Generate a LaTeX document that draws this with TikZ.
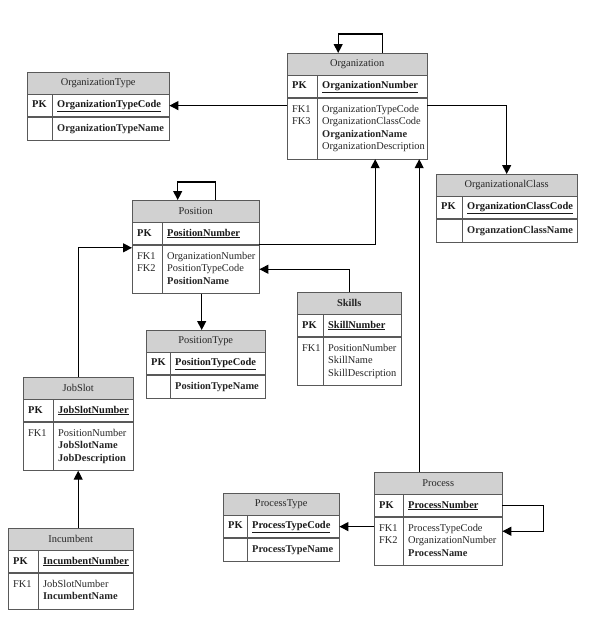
\documentclass[tikz,border=0pt]{standalone}
\usepackage{fontspec}
\setmainfont{Liberation Serif}
\usepackage{tikz}
\usetikzlibrary{arrows.meta, positioning}

\newcommand{\erbox}[7]{%
  \node[erhead, text width=#3, anchor=north west] (#1) at #2 {#5};
  \node[erkey, text width=#3, below=0pt of #1] (#1-pk)
    {\makebox[#4][l]{\textbf{PK}}\underline{\textbf{#6}}};
  \node[erbody, text width=#3, below=0pt of #1-pk] (#1-body)
    {\begin{tabular}{@{}p{#4}@{}l@{}}#7\end{tabular}};
  \draw[erline] ([xshift=#4]#1-pk.north west) -- ([xshift=#4]#1-body.south west);
}

\begin{document}
\begin{tikzpicture}[
    x=1pt, y=1pt,
    font=\fontsize{10.4}{12.5}\selectfont,
    erhead/.style={draw=black!65, fill=black!18, minimum height=22pt,
                   inner xsep=5pt, inner ysep=0pt, align=center, text=black!85},
    erkey/.style={draw=black!65, fill=white, minimum height=22pt,
                  inner xsep=5pt, inner ysep=0pt, align=left, text=black!90},
    erbody/.style={draw=black!65, fill=white, inner xsep=5pt, inner ysep=5.5pt,
                   align=left, text=black!85},
    erline/.style={draw=black!65},
    fk/.style={-{Triangle[length=9pt, width=9pt]}, line width=1.1pt}
  ]
    \useasboundingbox (0,0) rectangle (599,-638);

    \erbox{org}{(287,-53)}{130pt}{30pt}{Organization}{OrganizationNumber}
      {FK1 & OrganizationTypeCode\\ FK3 & OrganizationClassCode\\
       & \textbf{OrganizationName}\\ & OrganizationDescription}
    \erbox{otype}{(27,-72)}{132pt}{25pt}{OrganizationType}{OrganizationTypeCode}
      { & \textbf{OrganizationTypeName}}
    \erbox{oclass}{(436,-174)}{131pt}{26pt}{OrganizationalClass}{OrganizationClassCode}
      { & \textbf{OrganzationClassName}}
    \erbox{pos}{(132,-200)}{117pt}{30pt}{Position}{PositionNumber}
      {FK1 & OrganizationNumber\\ FK2 & PositionTypeCode\\ & \textbf{PositionName}}
    \erbox{ptype}{(146,-330)}{109pt}{24pt}{PositionType}{PositionTypeCode}
      { & \textbf{PositionTypeName}}
    \erbox{skills}{(297,-292)}{94pt}{26pt}{\textbf{Skills}}{SkillNumber}
      {FK1 & PositionNumber\\ & SkillName\\ & SkillDescription}
    \erbox{jobslot}{(23,-377)}{100pt}{30pt}{JobSlot}{JobSlotNumber}
      {FK1 & PositionNumber\\ & \textbf{JobSlotName}\\ & \textbf{JobDescription}}
    \erbox{incumbent}{(8,-528)}{115pt}{30pt}{Incumbent}{IncumbentNumber}
      {FK1 & JobSlotNumber\\ & \textbf{IncumbentName}}
    \erbox{process}{(374,-472)}{118pt}{29pt}{Process}{ProcessNumber}
      {FK1 & ProcessTypeCode\\ FK2 & OrganizationNumber\\ & \textbf{ProcessName}}
    \erbox{ptproc}{(223,-493)}{106pt}{24pt}{ProcessType}{ProcessTypeCode}
      { & \textbf{ProcessTypeName}}

    \draw[fk] ([xshift=25pt]org.north) -- ++(0,19) -| ([xshift=-19pt]org.north);
    \draw[fk] (org-body.west |- otype-pk.east) -- (otype-pk.east);
    \draw[fk] (org-body.east |- otype-pk.east) -| (oclass.north);
    \draw[fk] ([xshift=20pt]pos.north) -- ++(0,18) -| ([xshift=-18pt]pos.north);
    \draw[fk] (pos-pk.south east) -| ([xshift=18pt]org-body.south);
    \draw[fk] (jobslot.north) |- ([yshift=-3pt]pos-body.north west);
    \draw[fk] (skills.north) |- (pos-body.east);
    \draw[fk] ([xshift=6pt]pos-body.south) -- ([xshift=-4pt]ptype.north);
    \draw[fk] (jobslot-body.south |- incumbent.north) -- (jobslot-body.south);
    \draw[fk] ([xshift=-19pt]process.north) -- ([xshift=62pt]org-body.south);
    \draw[fk] (process-body.west |- ptproc-pk.east) -- (ptproc-pk.east);
    \draw[fk] (process-pk.east) -- ++(41,0) |- ([yshift=10pt]process-body.east);
  \end{tikzpicture}
\end{document}
